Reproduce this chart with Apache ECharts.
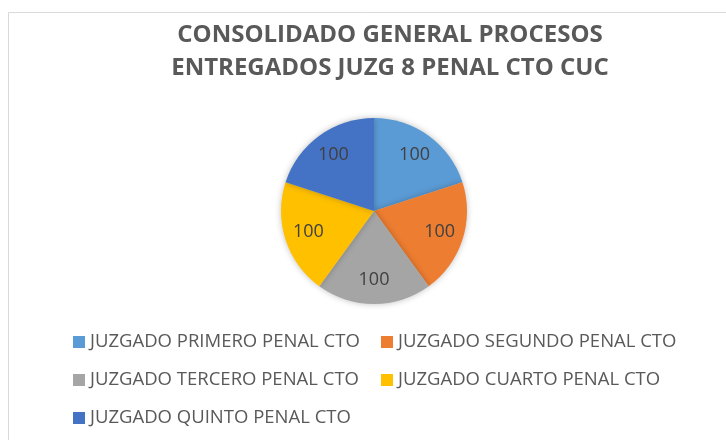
<!DOCTYPE html>
<html>
<head>
<meta charset="utf-8">
<script src="https://cdn.jsdelivr.net/npm/echarts@6/dist/echarts.min.js"></script>
<style>
  html, body { margin: 0; padding: 0; background: #fff; }
  #main { width: 726px; height: 440px; }
</style>
</head>
<body>
<div id="main"></div>
<script>
const titleText = 'CONSOLIDADO GENERAL PROCESOS\nENTREGADOS JUZG 8 PENAL CTO CUC';
const categories = [
  'JUZGADO PRIMERO PENAL CTO',
  'JUZGADO SEGUNDO PENAL CTO',
  'JUZGADO TERCERO PENAL CTO',
  'JUZGADO CUARTO PENAL CTO',
  'JUZGADO QUINTO PENAL CTO'
];
const values = [100, 100, 100, 100, 100];
const colors = ['#5B9BD5', '#ED7D31', '#A5A5A5', '#FFC000', '#4472C4'];

const chartDom = document.getElementById('main');
const myChart = echarts.init(chartDom);
const pieData = categories.map((name, i) => ({ name: name, value: values[i] }));
const font = '"Open Sans", sans-serif';

const legendBase = {
  orient: 'vertical',
  top: 327,
  itemWidth: 12,
  itemHeight: 12,
  itemGap: 18,
  icon: 'rect',
  textStyle: { fontFamily: font, fontSize: 18.5, color: '#595959', lineHeight: 20 }
};

const option = {
  color: colors,
  title: {
    text: titleText,
    left: 385,
    textAlign: 'center',
    top: 14,
    textStyle: {
      fontFamily: font,
      fontSize: 24,
      fontWeight: 'bold',
      color: '#595959',
      lineHeight: 33
    }
  },
  graphic: [{
    type: 'rect',
    shape: { x: 8.5, y: 12.5, width: 730, height: 440 },
    style: { fill: 'none', stroke: '#d9d9d9', lineWidth: 1 },
    silent: true
  }],
  legend: [
    Object.assign({}, legendBase, { left: 68, data: [categories[0], categories[2], categories[4]] }),
    Object.assign({}, legendBase, { left: 376, data: [categories[1], categories[3]] })
  ],
  series: [{
    type: 'pie',
    center: [374, 211],
    radius: [0, 93],
    startAngle: 90,
    clockwise: true,
    data: pieData,
    label: { show: false },
    labelLine: { show: false },
    itemStyle: {
      shadowBlur: 6,
      shadowColor: 'rgba(0,0,0,0.25)'
    },
    emphasis: { scale: false }
  }, {
    // transparent twin pie, only used to place the labels further out
    type: 'pie',
    center: [374, 211],
    radius: [0, 132],
    startAngle: 90,
    clockwise: true,
    silent: true,
    data: pieData,
    itemStyle: { color: 'rgba(0,0,0,0)' },
    label: {
      show: true,
      position: 'inside',
      formatter: '{c}',
      fontFamily: font,
      fontSize: 18,
      color: '#404040'
    },
    labelLine: { show: false },
    tooltip: { show: false }
  }]
};
option && myChart.setOption(option);
</script>
</body>
</html>
